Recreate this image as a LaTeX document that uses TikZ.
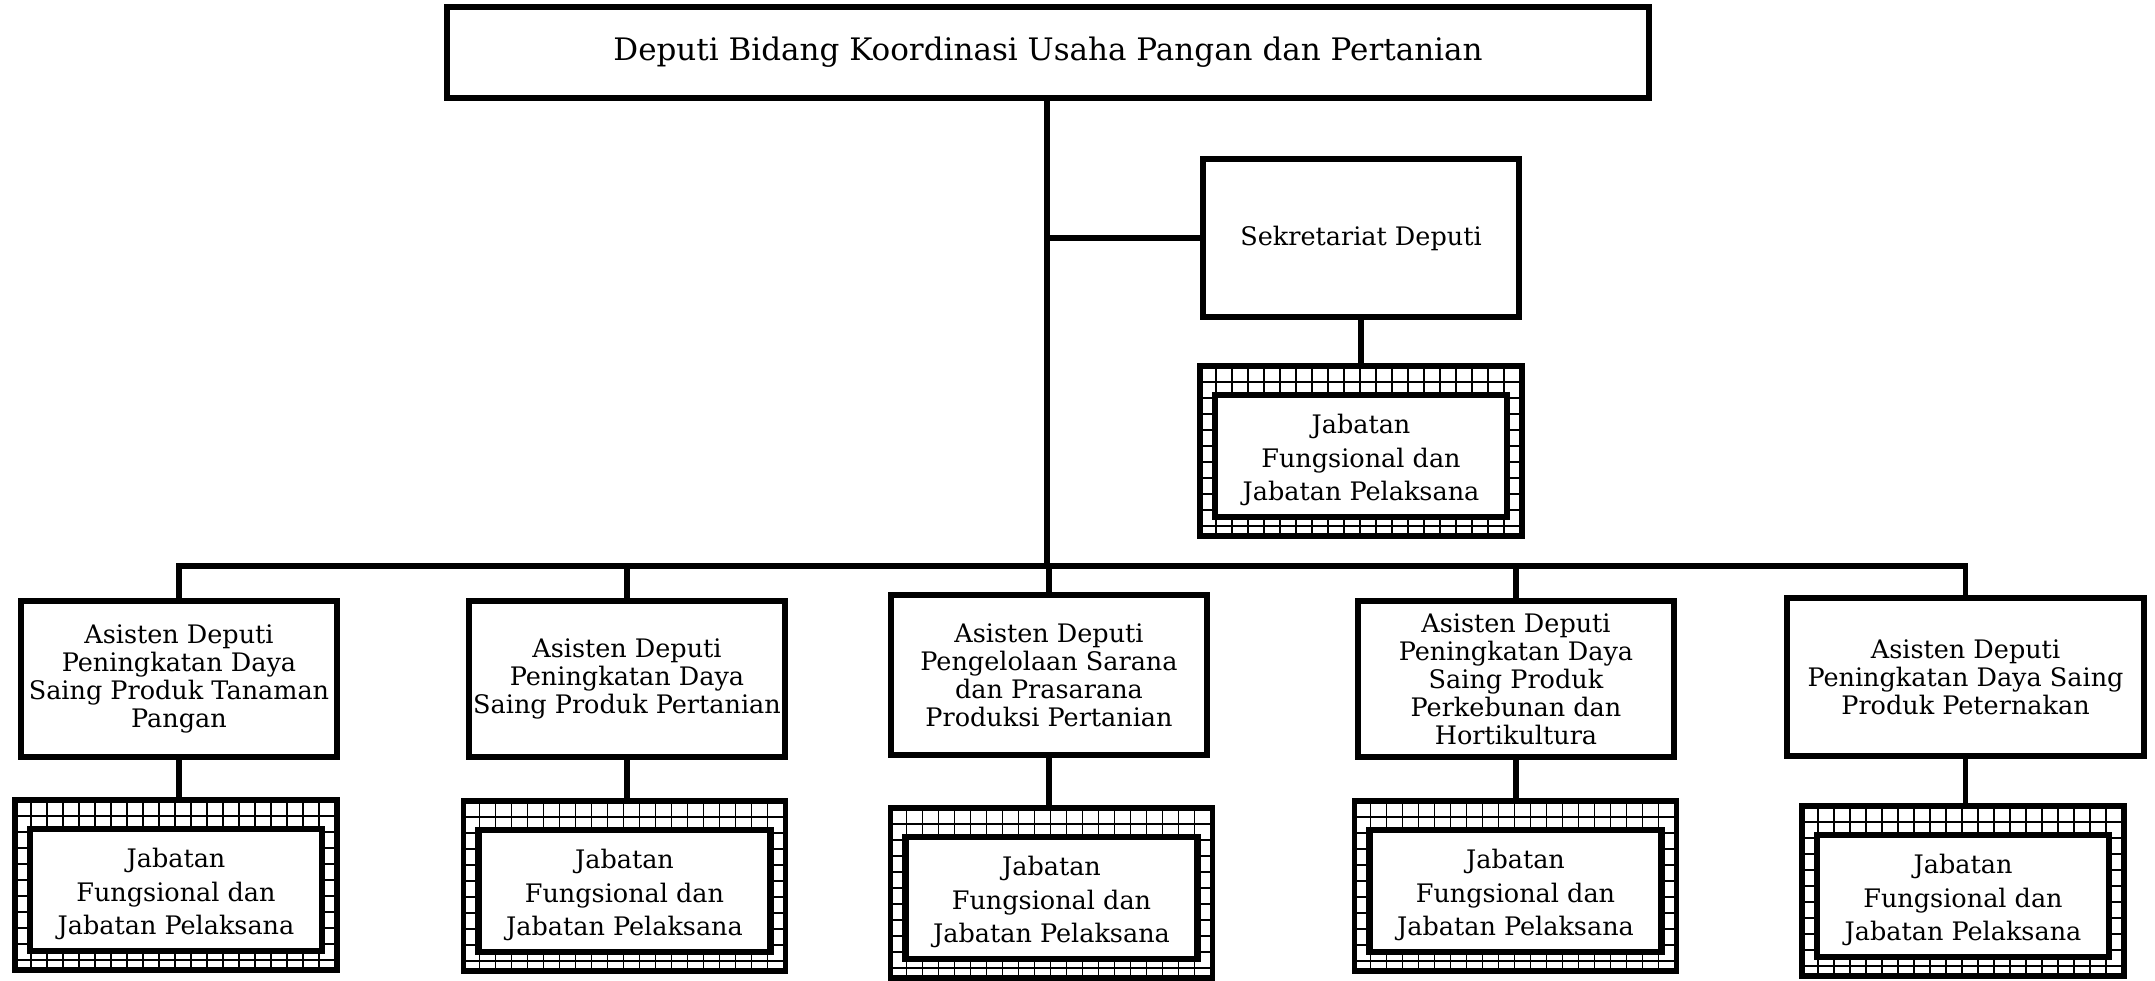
\documentclass[tikz,border=0pt]{standalone}
\usepackage{fontspec}
\setmainfont{DejaVu Serif}
\begin{document}
\begin{tikzpicture}[x=1pt,y=-1pt,
  box/.style={draw,line width=5.5pt,fill=white,inner sep=0pt,align=center,
    font=\fontsize{25.5}{28}\selectfont},
  titlebox/.style={box,font=\fontsize{31}{34}\selectfont},
  staffframe/.style={draw,line width=5.5pt,inner sep=0pt},
  staffinner/.style={draw,line width=6.5pt,fill=white,inner sep=0pt,
    minimum width=292pt,minimum height=122pt},
  stafftext/.style={inner sep=0pt,align=center,font=\fontsize{25.5}{33.5}\selectfont},
  gridline/.style={line width=1.6pt},
  conn/.style={line width=5.5pt}]
\useasboundingbox (0,0) rectangle (2155,981);

% staff box: #1 name, #2 centre x, #3 top y of outer frame
\newcommand\staffbox[3]{%
  \begin{scope}
    \clip (#2-161,#3) rectangle (#2+161,#3+170);
    \foreach \k in {0,...,21}{
      \draw[gridline] (#2-161+\k*16,#3) -- ++(0,170);
    }
    \foreach \k in {0,...,11}{
      \draw[gridline] (#2-161,#3+\k*16) -- ++(322,0);
    }
  \end{scope}
  \node[staffframe,minimum width=322pt,minimum height=170pt] (#1) at (#2,#3+85) {};
  \node[staffinner] (#1-in) at (#2,#3+90) {};
  \node[stafftext] (#1-txt) at ([yshift=-4pt]#1-in.center) {Jabatan\\Fungsional dan\\Jabatan Pelaksana};
}

% top level
\node[titlebox,minimum width=1202pt,minimum height=91pt] (top) at (1048,52.5)
  {Deputi Bidang Koordinasi Usaha Pangan dan Pertanian};
\node[box,minimum width=316pt,minimum height=158pt] (sek) at (1361,238) {Sekretariat Deputi};
\staffbox{sstaff}{1361}{366}

% assistant deputies
\node[box,minimum width=316pt,minimum height=156pt] (a1) at (179,679)
  {Asisten Deputi\\Peningkatan Daya\\Saing Produk Tanaman\\Pangan};
\node[box,minimum width=316pt,minimum height=156pt] (a2) at (627,679)
  {Asisten Deputi\\Peningkatan Daya\\Saing Produk Pertanian};
\node[box,minimum width=316pt,minimum height=160pt] (a3) at (1049,675)
  {Asisten Deputi\\Pengelolaan Sarana\\dan Prasarana\\Produksi Pertanian};
\node[box,minimum width=316pt,minimum height=156pt] (a4) at (1516,679)
  {Asisten Deputi\\Peningkatan Daya\\Saing Produk\\Perkebunan dan\\Hortikultura};
\node[box,minimum width=357pt,minimum height=158pt] (a5) at (1965.5,677)
  {Asisten Deputi\\Peningkatan Daya Saing\\Produk Peternakan};

\staffbox{s1}{176}{800}
\staffbox{s2}{624.5}{801}
\staffbox{s3}{1051.5}{808}
\staffbox{s4}{1515.5}{801}
\staffbox{s5}{1963}{806}

% connectors
\coordinate (bus) at (1047,566);
\draw[conn] (top.south -| bus) -- (bus);
\draw[conn] (sek.west) -- (sek.west -| bus);
\draw[conn] (sek.south) -- (sek.south |- sstaff.north);
\foreach \i in {1,...,5}{
  \draw[conn] (a\i.north) |- (bus);
  \draw[conn] (a\i.south) -- (a\i.south |- s\i.north);
}
\end{tikzpicture}
\end{document}
